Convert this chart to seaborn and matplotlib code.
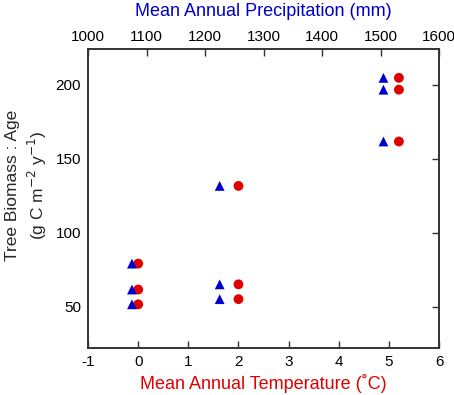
import matplotlib
matplotlib.use("Agg")
import matplotlib.pyplot as plt
import numpy as np
import pandas as pd
import seaborn as sns

# values
temperature = [0, 0, 0, 2, 2, 2, 5.2, 5.2, 5.2]
precipitation = [1075, 1075, 1075, 1225, 1225, 1225, 1505, 1505, 1505]
biomass_age = [79, 61.5, 51.5, 131.5, 65, 55, 204.5, 196.5, 161.5]

df = pd.DataFrame({"temp": temperature, "precip": precipitation, "ratio": biomass_age})

sns.set_style("white")
plt.rcParams["font.family"] = ["Liberation Sans", "DejaVu Sans"]
plt.rcParams["axes.unicode_minus"] = False

fig = plt.figure(figsize=(4.54, 3.95), dpi=100)
ax = fig.add_axes([0.194, 0.119, 0.773, 0.757])

red = "#E00000"
blue = "#0000CC"

sns.scatterplot(data=df, x="temp", y="ratio", ax=ax, color=red, marker="o",
                s=50, edgecolor="none", zorder=3)
ax.set_xlim(-1, 6)
ax.set_ylim(22, 224)
ax.set_yticks([50, 100, 150, 200])
ax.set_xticks(range(-1, 7))
ax.set_xlabel("Mean Annual Temperature (˚C)", color=red, fontsize=13, labelpad=4)
ax.set_ylabel("Tree Biomass : Age\n(g C m$^{-2}$ y$^{-1}$)", fontsize=12.5,
              linespacing=1.35)
ax.yaxis.set_label_coords(-0.11, 0.545)
ax.tick_params(direction="in", length=5, width=1, labelsize=11, right=True,
               pad=5, colors="#333333", labelcolor="black")

ax2 = ax.twiny()
sns.scatterplot(data=df, x="precip", y="ratio", ax=ax2, color=blue, marker="^",
                s=50, edgecolor="none", zorder=3)
ax2.set_xlim(1000, 1600)
ax2.set_xticks(range(1000, 1601, 100))
ax2.set_xlabel("Mean Annual Precipitation (mm)", color=blue, fontsize=13, labelpad=10)
ax2.tick_params(direction="in", length=5, width=1, labelsize=11,
                colors="#333333", labelcolor="black")
ax2.set_ylabel("")

for a in (ax, ax2):
    for sp in a.spines.values():
        sp.set_color("#333333")
        sp.set_linewidth(1.2)

fig.savefig("out.png", dpi=100)
